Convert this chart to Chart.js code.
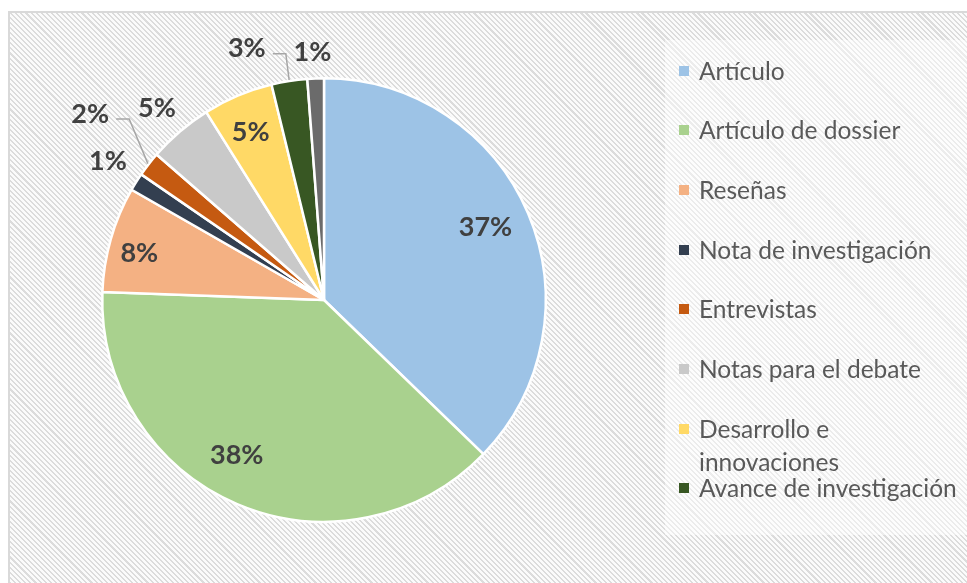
<!DOCTYPE html>
<html>
<head>
<meta charset="utf-8">
<script src="https://cdn.jsdelivr.net/npm/chart.js@4.4.1/dist/chart.umd.min.js"></script>
<style>
body{margin:0;width:967px;height:583px;overflow:hidden;background:#fff;font-family:Lato,sans-serif}
#marco{position:absolute;left:8px;top:11px;width:990px;height:600px;border:2px solid #d9d9d9;box-sizing:border-box;
  background:repeating-linear-gradient(45deg,#dcdcdc 0px,#dcdcdc 1.5px,#fbfbfb 1.5px,#fbfbfb 3.6px)}
#fondoLeyenda{position:absolute;left:665px;top:40px;width:310px;height:495px;background:rgba(255,255,255,.45)}
#grafico{position:absolute;left:0;top:0}
.item{position:absolute;left:679px;color:#595959;font-size:24.5px;line-height:33px}
.item .m{position:absolute;left:0;top:12px;width:10px;height:10px}
.item .t{display:block;margin-left:20px;width:266px}
</style>
</head>
<body>
<div id="marco"></div>
<div id="fondoLeyenda"></div>
<canvas id="grafico" width="967" height="583"></canvas>
<div id="leyenda"></div>
<script>
// datos (porcentajes aproximados)
const categorias = ["Artículo", "Artículo de dossier", "Reseñas", "Nota de investigación", "Entrevistas",
  "Notas para el debate", "Desarrollo e innovaciones", "Avance de investigación", "Otros"];
const valores = [37.2, 38.3, 7.7, 1.3, 1.8, 4.7, 5.1, 2.6, 1.2];
const colores = ["#9dc3e6", "#a9d18e", "#f4b183", "#333f50", "#c55a11", "#c9c9c9", "#ffd966", "#385723", "#6b6b6b"];
const itemsLeyenda = 8; // el ultimo no aparece en la leyenda

// donde va cada etiqueta: r = fraccion del radio, da = grados de desvio, guia = linea
const posEtiquetas = [
  {r:0.80, da:-1.5}, {r:0.80, da:6.4}, {r:0.86, da:-1.5}, {r:1.16, da:0.7},
  {r:1.35, da:0.9, guia:true}, {r:1.15, da:-0.4}, {r:0.83, da:-0.6},
  {r:1.19, da:-8, guia:true}, {r:1.12, da:-0.5}
];

const etiquetas = {
  id: 'etiquetas',
  afterDatasetsDraw(chart) {
    const ctx = chart.ctx;
    const meta = chart.getDatasetMeta(0);
    const total = valores.reduce((a, b) => a + b, 0);
    ctx.save();
    ctx.font = 'bold 27px Lato';
    ctx.fillStyle = '#404040';
    ctx.textAlign = 'center';
    ctx.textBaseline = 'alphabetic';
    meta.data.forEach((arc, i) => {
      const p = arc.getProps(['x', 'y', 'startAngle', 'endAngle', 'outerRadius'], true);
      const medio = (p.startAngle + p.endAngle) / 2;
      const a = medio + posEtiquetas[i].da * Math.PI / 180;
      const r = p.outerRadius * posEtiquetas[i].r;
      const x = p.x + r * Math.cos(a);
      const y = p.y + r * Math.sin(a);
      const texto = Math.round(valores[i] / total * 100) + '%';
      ctx.fillText(texto, x, y + 9.5);
      if (posEtiquetas[i].guia) {
        ctx.strokeStyle = '#a6a6a6';
        ctx.lineWidth = 1.5;
        ctx.beginPath();
        ctx.moveTo(x + 26, y + 6);
        ctx.lineTo(x + 39, y + 6);
        ctx.lineTo(p.x + (p.outerRadius + 1) * Math.cos(medio), p.y + (p.outerRadius + 1) * Math.sin(medio));
        ctx.stroke();
      }
    });
    ctx.restore();
  }
};

new Chart(document.getElementById('grafico'), {
  type: 'pie',
  data: {
    labels: categorias,
    datasets: [{
      data: valores,
      backgroundColor: colores,
      borderColor: '#ffffff',
      borderWidth: 2.5
    }]
  },
  options: {
    responsive: false,
    animation: false,
    layout: {padding: {left: 101, right: 420, top: 77, bottom: 60}},
    plugins: {legend: {display: false}, tooltip: {enabled: false}}
  },
  plugins: [etiquetas]
});

// leyenda
const leyenda = document.getElementById('leyenda');
for (let i = 0; i < itemsLeyenda; i++) {
  const div = document.createElement('div');
  div.className = 'item';
  div.style.top = (70 + i * 59.7 - 16.5) + 'px';
  const m = document.createElement('span');
  m.className = 'm';
  m.style.background = colores[i];
  const t = document.createElement('span');
  t.className = 't';
  t.textContent = categorias[i];
  div.appendChild(m);
  div.appendChild(t);
  leyenda.appendChild(div);
}
</script>
</body>
</html>
